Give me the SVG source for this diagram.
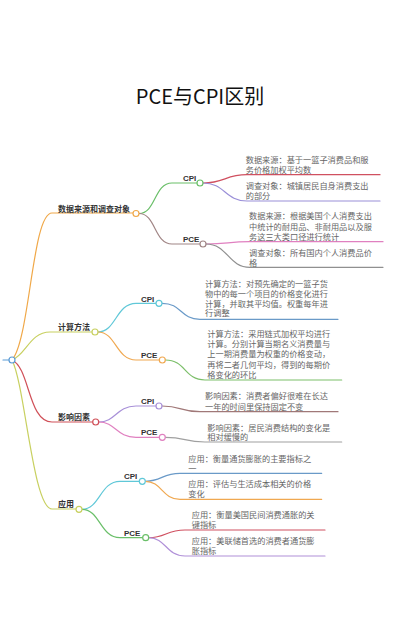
<svg xmlns="http://www.w3.org/2000/svg" width="400" height="641" viewBox="0 0 400 641">
<style>
.c{fill:none;stroke-width:1.2;stroke-linecap:round}
.n{fill:#fff;stroke-width:1.2}
.t{font-family:"Liberation Sans","Noto Sans CJK SC",sans-serif;font-size:8px;font-weight:bold;fill:#333}
.l{font-family:"Liberation Sans","Noto Sans CJK SC",sans-serif;font-size:8.2px;fill:#666}
.title{font-family:"Noto Sans CJK SC",sans-serif;font-size:20px;fill:#111;text-anchor:middle}
</style>
<rect width="400" height="641" fill="#fff"/>
<text class="title" x="200" y="104">PCE与CPI区别</text>
<g id="connectors">
<path class="c" stroke="#5b9bd5" d="M3,360 L9,360"/>
<path class="c" stroke="#f0a848" d="M12,360 C30,340 32,213 52,213 L133,213"/>
<path class="c" stroke="#c8d060" d="M12,360 C26,355 30,332 50,332 L92,332"/>
<path class="c" stroke="#d05058" d="M12,360 C30,368 28,422 52,422 L92.7,422"/>
<path class="c" stroke="#c8d060" d="M12,360 C25,385 33,509 52,509 L76,509"/>
<path class="c" stroke="#6abf69" d="M139,213.5 C156,213.5 154,183 172,183 L197,183"/>
<path class="c" stroke="#a08585" d="M139,213.5 C156,213.5 154,244 172,244 L200,244"/>
<path class="c" stroke="#d05060" d="M203,183 C225,183 225,174.7 247,174.7 L380,174.7"/>
<path class="c" stroke="#9a8fd8" d="M203,183 C225,183 225,201 247,201 L380,201"/>
<path class="c" stroke="#e080c0" d="M206,244 C228,244 228,241.7 250,241.7 L383,241.7"/>
<path class="c" stroke="#909090" d="M206,244 C228,244 228,267.3 250,267.3 L383,267.3"/>
<path class="c" stroke="#60c8d8" d="M98,332 C116,332 116,303.3 136,303.3 L156,303.3"/>
<path class="c" stroke="#f0a850" d="M98,332 C116,332 116,360 136,360 L159.3,360"/>
<path class="c" stroke="#6a9ac8" d="M162,303.3 C182,303.3 180,319.3 200,319.3 L338,319.3"/>
<path class="c" stroke="#7cbf6a" d="M165.3,360 C186,360 184,380 205,380 L341.7,380"/>
<path class="c" stroke="#a890d8" d="M98.7,422 C116,422 116,406 136,406 L156,406"/>
<path class="c" stroke="#e080c0" d="M98.7,422 C116,422 116,437.3 136,437.3 L159.3,437.3"/>
<path class="c" stroke="#a07878" d="M162,406 C182,406 180,411.7 200,411.7 L338,411.7"/>
<path class="c" stroke="#a0a0a0" d="M165.3,437.3 C186,437.3 184,442 205,442 L341.7,442"/>
<path class="c" stroke="#60c8d8" d="M82,509.3 C100,509.3 100,481.3 120,481.3 L139.3,481.3"/>
<path class="c" stroke="#6abf69" d="M82,509.3 C100,509.3 100,537.7 120,537.7 L142.7,537.7"/>
<path class="c" stroke="#6a9ac8" d="M145.3,481.3 C162,481.3 162,473.3 180,473.3 L321.7,473.3"/>
<path class="c" stroke="#f0a850" d="M145.3,481.3 C162,481.3 162,499.3 180,499.3 L321.7,499.3"/>
<path class="c" stroke="#d05060" d="M148.7,537.7 C166,537.7 166,530 185,530 L325,530"/>
<path class="c" stroke="#b090d8" d="M148.7,537.7 C166,537.7 166,556 185,556 L325,556"/>
</g>
<g id="root"><circle class="n" stroke="#5b9bd5" cx="12" cy="360" r="3"/></g>
<g id="b1"><text class="t" x="58" y="211.5">数据来源和调查对象</text><circle class="n" stroke="#f0a848" cx="136" cy="213.5" r="3"/></g>
<g id="b1-cpi"><text class="t" x="183" y="181">CPI</text><circle class="n" stroke="#6abf69" cx="200" cy="183" r="3"/></g>
<g id="b1-pce"><text class="t" x="183" y="242.3">PCE</text><circle class="n" stroke="#a08585" cx="203" cy="244" r="3"/></g>
<g id="b1-cpi-1"><text class="l" x="245.7" y="163.2">数据来源：基于一篮子消费品和服</text><text class="l" x="245.7" y="173.4">务价格加权平均数</text></g>
<g id="b1-cpi-2"><text class="l" x="245.7" y="188.5">调查对象：城镇居民自身消费支出</text><text class="l" x="245.7" y="198.8">的部分</text></g>
<g id="b1-pce-1"><text class="l" x="249" y="219.2">数据来源：根据美国个人消费支出</text><text class="l" x="249" y="229.5">中统计的耐用品、非耐用品以及服</text><text class="l" x="249" y="239.8">务这三大类口径进行统计</text></g>
<g id="b1-pce-2"><text class="l" x="249" y="255.8">调查对象：所有国内个人消费品价</text><text class="l" x="249" y="266">格</text></g>
<g id="b2"><text class="t" x="58" y="330">计算方法</text><circle class="n" stroke="#c8d060" cx="95" cy="332" r="3"/></g>
<g id="b2-cpi"><text class="t" x="141" y="301.5">CPI</text><circle class="n" stroke="#60c8d8" cx="159" cy="303.3" r="3"/></g>
<g id="b2-pce"><text class="t" x="141" y="358">PCE</text><circle class="n" stroke="#f0a850" cx="162.3" cy="360" r="3"/></g>
<g id="b2-cpi-1"><text class="l" x="205" y="287.3">计算方法：对预先确定的一篮子货</text><text class="l" x="205" y="297.2">物中的每一个项目的价格变化进行</text><text class="l" x="205" y="306.8">计算，并取其平均值。权重每年进</text><text class="l" x="205" y="316.2">行调整</text></g>
<g id="b2-pce-1"><text class="l" x="207.3" y="336.5">计算方法：采用链式加权平均进行</text><text class="l" x="207.3" y="347">计算。分别计算当期名义消费量与</text><text class="l" x="207.3" y="357.3">上一期消费量为权重的价格变动，</text><text class="l" x="207.3" y="368">再将二者几何平均，得到的每期价</text><text class="l" x="207.3" y="378.4">格变化的环比</text></g>
<g id="b3"><text class="t" x="58" y="420">影响因素</text><circle class="n" stroke="#d05058" cx="95.7" cy="422" r="3"/></g>
<g id="b3-cpi"><text class="t" x="141" y="404">CPI</text><circle class="n" stroke="#a890d8" cx="159" cy="406" r="3"/></g>
<g id="b3-pce"><text class="t" x="141" y="435.3">PCE</text><circle class="n" stroke="#e080c0" cx="162.3" cy="437.3" r="3"/></g>
<g id="b3-cpi-1"><text class="l" x="205" y="399.2">影响因素：消费者偏好很难在长达</text><text class="l" x="205" y="409.6">一年的时间里保持固定不变</text></g>
<g id="b3-pce-1"><text class="l" x="207.3" y="430.6">影响因素：居民消费结构的变化是</text><text class="l" x="207.3" y="440.4">相对缓慢的</text></g>
<g id="b4"><text class="t" x="58" y="507.3">应用</text><circle class="n" stroke="#c8d060" cx="79" cy="509.3" r="3"/></g>
<g id="b4-cpi"><text class="t" x="124" y="479.3">CPI</text><circle class="n" stroke="#60c8d8" cx="142.3" cy="481.3" r="3"/></g>
<g id="b4-pce"><text class="t" x="124" y="535.7">PCE</text><circle class="n" stroke="#6abf69" cx="145.7" cy="537.7" r="3"/></g>
<g id="b4-cpi-1"><text class="l" x="188.3" y="461.5">应用：衡量通货膨胀的主要指标之</text><text class="l" x="188.3" y="471.5">一</text></g>
<g id="b4-cpi-2"><text class="l" x="188.3" y="487.2">应用：评估与生活成本相关的价格</text><text class="l" x="188.3" y="497.3">变化</text></g>
<g id="b4-pce-1"><text class="l" x="191.7" y="518.2">应用：衡量美国民间消费通胀的关</text><text class="l" x="191.7" y="528.2">键指标</text></g>
<g id="b4-pce-2"><text class="l" x="191.7" y="543.5">应用：美联储首选的消费者通货膨</text><text class="l" x="191.7" y="553.8">胀指标</text></g>
</svg>
